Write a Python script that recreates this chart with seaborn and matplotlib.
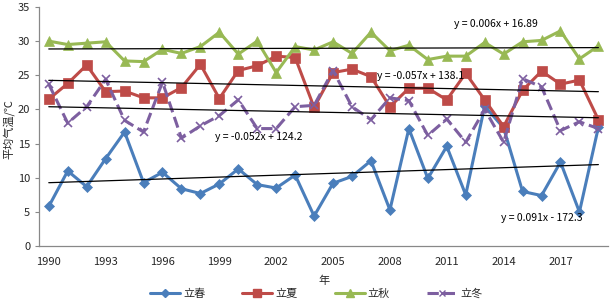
from matplotlib import pyplot as plt
import matplotlib.lines as mlines
import numpy as np
import seaborn as sns

years = list(range(1990, 2020))

# 立春
lichun = [5.8, 11.0, 8.7, 12.8, 16.7, 9.3, 10.8, 8.4, 7.7, 9.1,
          11.3, 9.0, 8.5, 10.4, 4.4, 9.2, 10.2, 12.5, 5.3, 17.2,
          9.9, 14.6, 7.5, 20.5, 17.3, 8.0, 7.4, 12.3, 5.0, 17.4]
# 立夏
lixia = [21.5, 23.8, 26.5, 22.6, 22.7, 21.7, 21.7, 23.2, 26.6, 21.6,
         25.7, 26.4, 27.8, 27.6, 20.3, 25.4, 25.9, 24.8, 20.4, 23.1,
         23.1, 21.4, 25.3, 21.4, 17.5, 22.8, 25.6, 23.7, 24.3, 18.5]
# 立秋
liqiu = [30.0, 29.5, 29.7, 29.9, 27.1, 27.0, 28.8, 28.2, 29.2, 31.3,
         28.1, 30.0, 25.4, 29.2, 28.7, 29.9, 28.2, 31.3, 28.6, 29.4,
         27.3, 27.8, 27.8, 29.8, 28.1, 29.9, 30.1, 31.5, 27.4, 29.3]
# 立冬
lidong = [23.7, 18.0, 20.4, 24.4, 18.4, 16.7, 24.0, 15.8, 17.6, 19.1,
          21.4, 17.2, 17.2, 20.4, 20.6, 25.7, 20.4, 18.5, 21.7, 21.3,
          16.2, 18.6, 15.2, 20.0, 15.2, 24.5, 23.3, 16.9, 18.2, 17.2]

tick_years = list(range(1990, 2020, 3))
equations = ["y = 0.091x - 172.3", "y = -0.057x + 138.1",
             "y = 0.006x + 16.89", "y = -0.052x + 124.2"]

sns.set_style("white")
plt.rcParams['font.family'] = ['Noto Sans CJK SC', 'DejaVu Sans']

fig = plt.figure(figsize=(6.14, 3.02), dpi=100)
ax = fig.add_axes([0.064, 0.185, 0.926, 0.792])

series = [
    ("立春", lichun, "#4A7EBB", "D", "-", 5.5),
    ("立夏", lixia, "#BE4B48", "s", "-", 6.5),
    ("立秋", liqiu, "#98B954", "^", "-", 7),
    ("立冬", lidong, "#7D5FA0", "x", "--", 6),
]

handles = []
for name, vals, color, marker, ls, ms in series:
    sns.lineplot(x=years, y=vals, ax=ax, color=color, linestyle=ls,
                 linewidth=2.2, marker=marker, markersize=ms,
                 markeredgecolor=color, markeredgewidth=1.2 if marker == "x" else 0.5)
    handles.append(mlines.Line2D([], [], color=color, linestyle=ls, linewidth=2.2,
                                 marker=marker, markersize=ms - 1,
                                 markeredgecolor=color))

# linear trend lines
for name, vals, color, marker, ls, ms in series:
    sns.regplot(x=np.array(years), y=np.array(vals), ax=ax, scatter=False, ci=None,
                color="black", line_kws=dict(linewidth=0.9))

eq_pos = [(2016.0, 4.1), (2009.6, 24.9), (2013.6, 32.5), (2001.1, 15.9)]
for txt, (x, y) in zip(equations, eq_pos):
    ax.text(x, y, txt, fontsize=7.5, ha="center", va="center", color="black")

ax.set_xlim(1989.5, 2019.5)
ax.set_ylim(0, 35)
ax.set_yticks(range(0, 36, 5))
ax.set_xticks(tick_years)
ax.set_xticks(np.arange(1989.5, 2020, 3), minor=True)
ax.tick_params(axis="x", which="major", length=0, labelsize=8, pad=8)
ax.tick_params(axis="x", which="minor", length=4, color="#888888", direction="out")
ax.tick_params(axis="y", length=3, color="#888888", labelsize=8, direction="out", left=True)

for side in ["top", "right"]:
    ax.spines[side].set_visible(False)
for side in ["left", "bottom"]:
    ax.spines[side].set_color("#888888")
    ax.spines[side].set_linewidth(0.9)

ax.set_xlabel("年", fontsize=8)
ax.xaxis.set_label_coords(0.5, -0.125)
ax.xaxis.label.set_va("top")
ax.set_ylabel("平均气温/℃", fontsize=8)
ax.yaxis.set_label_coords(-0.043, 0.49)

fig.legend(handles=handles, labels=[s[0] for s in series], loc="center",
           bbox_to_anchor=(0.515, 0.028), ncol=4, frameon=False, fontsize=8,
           handlelength=2.7, handletextpad=0.3, columnspacing=3.3)

plt.savefig("out.png", dpi=100)
plt.close()
